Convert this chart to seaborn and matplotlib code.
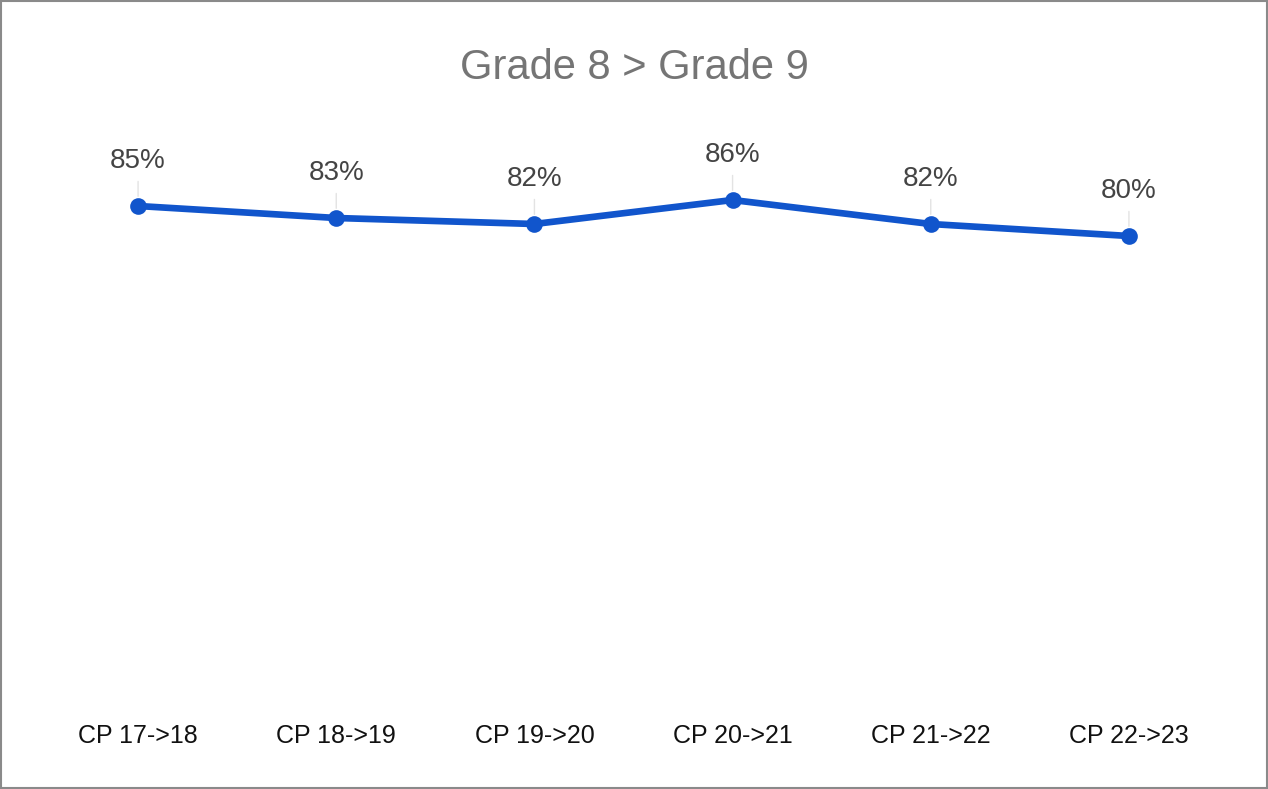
import matplotlib
matplotlib.use("Agg")
import matplotlib.pyplot as plt
import seaborn as sns
import pandas as pd

categories = ["CP 17->18", "CP 18->19", "CP 19->20", "CP 20->21", "CP 21->22", "CP 22->23"]
values = [85, 83, 82, 86, 82, 80]
title = "Grade 8 > Grade 9"

sns.set_theme(style="white")
plt.rcParams['font.family'] = ['Liberation Sans', 'DejaVu Sans']

df = pd.DataFrame({"period": categories, "rate": values})

fig = plt.figure(figsize=(12.68, 7.89), dpi=100)
ax = fig.add_axes([39/1268, 73/789, 1189/1268, 600/789])

sns.lineplot(data=df, x="period", y="rate", ax=ax, color="#1155CC",
             linewidth=4.8, marker="o", markersize=12, markeredgewidth=0,
             sort=False)

ax.set_ylim(0, 100)
ax.set_xlim(-0.5, len(categories) - 0.5)
ax.set_xlabel("")
ax.set_ylabel("")
ax.set_yticks([])
for s in ax.spines.values():
    s.set_visible(False)
ax.tick_params(axis="x", length=0, pad=6)
for lab in ax.get_xticklabels():
    lab.set_fontsize(18)
    lab.set_color("#111111")

for i, v in enumerate(values):
    ax.annotate(f"{v}%", xy=(i, v), xytext=(0, 45), textcoords="offset pixels",
                ha="center", va="center", fontsize=20, color="#444444",
                arrowprops=dict(arrowstyle="-", color="#e3e3e3", lw=1,
                                shrinkA=3, shrinkB=7))

fig.text(0.5, 1 - 68/789, title, ha="center", va="center",
         fontsize=30, color="#757575")

border = plt.Rectangle((0.0005, 0.001), 0.999, 0.998, transform=fig.transFigure,
                       fill=False, edgecolor="#8a8a8a", linewidth=1.5)
fig.patches.append(border)

fig.savefig("out.png", dpi=100)
